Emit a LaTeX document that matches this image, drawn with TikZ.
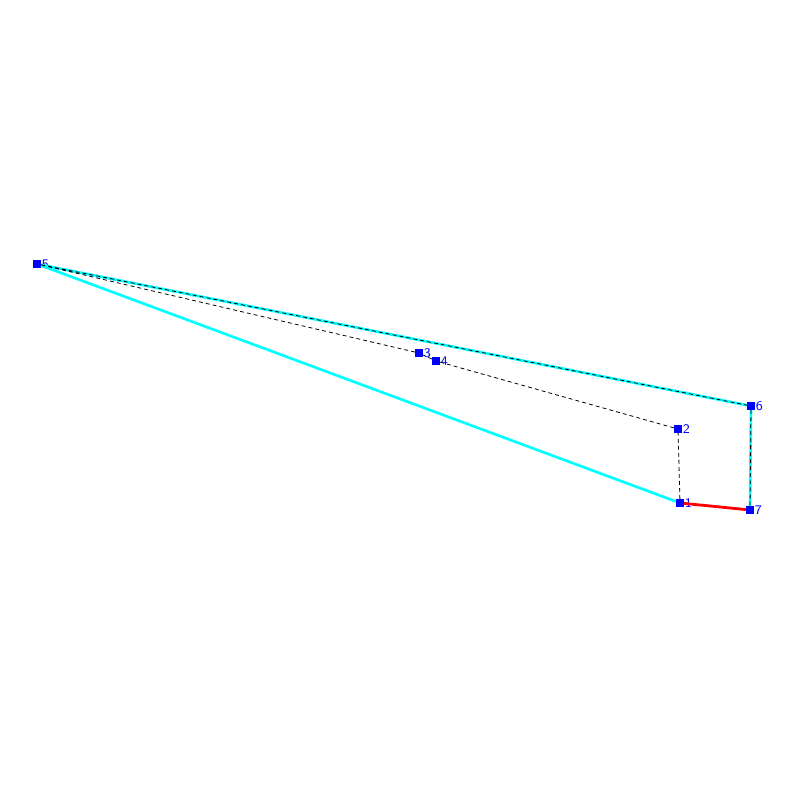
\documentclass[tikz,border=0pt]{standalone}
\usepackage{tikz}
\definecolor{edgecyan}{RGB}{0,255,255}
\definecolor{ptblue}{RGB}{0,0,255}
\definecolor{hingered}{RGB}{255,0,0}

\begin{document}
\begin{tikzpicture}[
		x=0.02cm, y=-0.02cm,
		pt/.style={draw=none, rectangle, fill=ptblue, minimum size=0.15cm, inner sep=0pt,
			label={[ptblue, font=\sffamily\fontsize{7.5}{8}\selectfont, inner sep=0.5pt, xshift=-0.3pt]right:#1}},
		edge/.style={edgecyan, line width=1.5pt},
		hinge/.style={hingered, line width=1.6pt},
		guide/.style={black, dash pattern=on 2.2pt off 1.8pt, line width=0.45pt}
		]
		
		\useasboundingbox (0,0) rectangle (800,800);
		
		% ======================
		% Points
		% ======================
		\node[pt=1] (p1) at (680,503) {};
		\node[pt=2] (p2) at (678,429) {};
		\node[pt=3] (p3) at (419,353) {};
		\node[pt=4] (p4) at (436,361) {};
		\node[pt=5] (p5) at (37,264) {};
		\node[pt=6] (p6) at (751,406) {};
		\node[pt=7] (p7) at (750,510) {};
		
		% ======================
		% Outline
		% ======================
		\draw[edge] (p5) -- (p6);
		\draw[edge] (p6) -- (p7);
		\draw[edge] (p1) -- (p5);
		\draw[hinge] (p1) -- (p7);
		
		% ======================
		% Dashed path
		% ======================
		\draw[guide] (p1) -- (p2) -- (p4) -- (p3) -- (p5) -- (p6) -- (p7);
		
	\end{tikzpicture}
\end{document}
